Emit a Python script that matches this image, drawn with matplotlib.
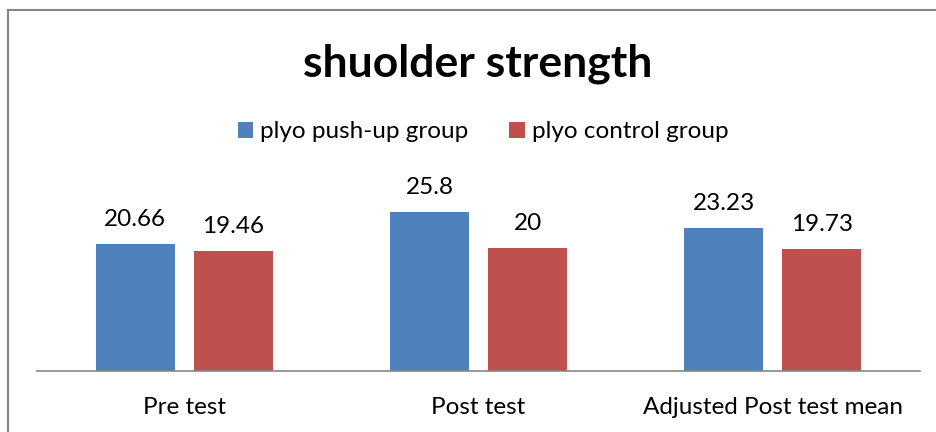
import numpy as np
import matplotlib.pyplot as plt
from matplotlib.lines import Line2D

categories = ['Pre test', 'Post test', 'Adjusted Post test mean']
pushup = [20.66, 25.8, 23.23]
control = [19.46, 20, 19.73]
pushup_labels = ['20.66', '25.8', '23.23']
control_labels = ['19.46', '20', '19.73']

blue = '#4f81bd'
red = '#c0504d'

plt.rcParams['font.family'] = ['Lato', 'DejaVu Sans']

W, H = 937, 432
fig = plt.figure(figsize=(W / 100, H / 100), dpi=100)
ax = fig.add_axes([37 / W, (H - 371) / H, (920 - 37) / W, (371 - 186) / H])

x = np.arange(len(categories))
bw = 0.268
gap = 0.065
ax.bar(x - (bw + gap) / 2, pushup, bw, color=blue, label='plyo push-up group')
ax.bar(x + (bw + gap) / 2, control, bw, color=red, label='plyo control group')

fs = 17.5
for i in range(len(categories)):
    ax.annotate(pushup_labels[i], (x[i] - (bw + gap) / 2, pushup[i]),
                xytext=(0, 13), textcoords='offset points',
                ha='center', va='baseline', fontsize=fs)
    ax.annotate(control_labels[i], (x[i] + (bw + gap) / 2, control[i]),
                xytext=(0, 13), textcoords='offset points',
                ha='center', va='baseline', fontsize=fs)

ax.set_xlim(-0.5, 2.5)
ax.set_ylim(0, 30)
ax.set_xticks(x)
ax.set_xticklabels(categories, fontsize=fs)
ax.tick_params(axis='x', length=0, pad=19)
ax.set_yticks([])
for s in ['top', 'right', 'left']:
    ax.spines[s].set_visible(False)
ax.spines['bottom'].set_color('#868686')
ax.spines['bottom'].set_linewidth(1.2)

fig.text(478 / W, 1 - 77 / H, 'shuolder strength', ha='center', va='baseline',
         fontsize=32, fontweight='bold')

leg = fig.legend(loc='center', bbox_to_anchor=(483 / W, 1 - 132 / H), ncol=2,
                 frameon=False, fontsize=fs, handlelength=0.62, handleheight=0.62,
                 handletextpad=0.3, columnspacing=1.7)

# chart frame (partially cropped in the original)
fig.add_artist(Line2D([8 / W, 8 / W], [0, 1 - 10 / H], color='#868686', lw=1.5,
                      transform=fig.transFigure))
fig.add_artist(Line2D([8 / W, 1], [1 - 10 / H, 1 - 10 / H], color='#868686', lw=1.5,
                      transform=fig.transFigure))

fig.savefig('out.png', dpi=100)
